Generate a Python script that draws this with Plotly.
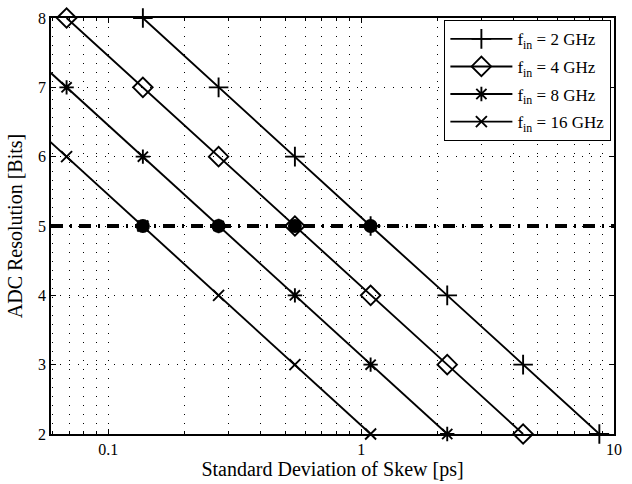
import numpy as np
import plotly.graph_objects as go

# ADC resolution (bits) versus the standard deviation of timing skew (ps)
bits = [8, 7, 6, 5, 4, 3, 2]
skew_2ghz = [0.137, 0.273, 0.547, 1.09, 2.19, 4.37, 8.75]
skew_4ghz = [0.0684, 0.137, 0.273, 0.547, 1.09, 2.19, 4.37]
skew_8ghz = [0.0342, 0.0684, 0.137, 0.273, 0.547, 1.09, 2.19]
skew_16ghz = [0.0171, 0.0342, 0.0684, 0.137, 0.273, 0.547, 1.09]

target_bits = 5
target_skew = [0.137, 0.273, 0.547, 1.09]

x_tick_vals = [0.1, 1, 10]
x_tick_text = ["0.1", "1", "10"]
y_tick_vals = [2, 3, 4, 5, 6, 7, 8]

x_range_log = [-1.2266, 1.0]
y_range = [2, 8]

FONT = "Liberation Serif"
LW = 1.9

series = [
    ("f<sub>in</sub> = 2 GHz", skew_2ghz, "cross-thin-open", 14),
    ("f<sub>in</sub> = 4 GHz", skew_4ghz, "diamond-open", 15),
    ("f<sub>in</sub> = 8 GHz", skew_8ghz, "asterisk-open", 12),
    ("f<sub>in</sub> = 16 GHz", skew_16ghz, "x-thin-open", 11),
]

fig = go.Figure()

xmin, xmax = 10 ** x_range_log[0], 10 ** x_range_log[1]

# dash-dot reference line at the target resolution
fig.add_trace(go.Scatter(
    x=[xmin, xmax], y=[target_bits, target_bits], mode="lines",
    line=dict(color="black", width=3.8, dash="12px,7px,2px,7px"),
    showlegend=False, hoverinfo="skip",
))

for i, (name, skew, symbol, size) in enumerate(series):
    # full line (clipped to the plot area by the axes)
    fig.add_trace(go.Scatter(
        x=skew, y=bits, mode="lines",
        line=dict(color="black", width=LW),
        showlegend=False, hoverinfo="skip",
    ))
    # markers that fall inside the visible range
    keep = [(s, b) for s, b in zip(skew, bits)
            if xmin <= s <= xmax and y_range[0] <= b <= y_range[1]]
    fig.add_trace(go.Scatter(
        x=[k[0] for k in keep], y=[k[1] for k in keep], mode="markers", cliponaxis=False,
        marker=dict(symbol=symbol, size=size, color="black",
                    line=dict(color="black", width=LW)),
        showlegend=False,
    ))
    # legend entry (line + marker)
    fig.add_trace(go.Scatter(
        x=[None], y=[None], mode="lines+markers", name=name,
        legendgroup=f"g{i}",
        line=dict(color="black", width=LW),
        marker=dict(symbol=symbol, size=size, color="black",
                    line=dict(color="black", width=LW)),
    ))

# operating points at the target resolution
fig.add_trace(go.Scatter(
    x=target_skew, y=[target_bits] * len(target_skew), mode="markers",
    cliponaxis=False,
    marker=dict(symbol="circle", size=14, color="black"),
    showlegend=False,
))

minor_vals = [m * 10.0 ** d for d in (-2, -1, 0) for m in range(2, 10)]

fig.update_xaxes(
    type="log", range=x_range_log,
    tickmode="array", tickvals=x_tick_vals, ticktext=x_tick_text,
    ticks="inside", ticklen=5, tickwidth=1, tickcolor="black",
    showline=True, linecolor="black", linewidth=1.6, mirror="ticks",
    showgrid=True, gridcolor="black", gridwidth=1, griddash="1px,8px",
    minor=dict(tickmode="array", tickvals=minor_vals, ticks="inside", ticklen=3,
               tickcolor="black", showgrid=True, gridcolor="black",
               gridwidth=1, griddash="1px,8px"),
    zeroline=False,
    title=dict(text="Standard Deviation of Skew [ps]", font=dict(family=FONT, size=20, color="black"), standoff=2),
    tickfont=dict(family=FONT, size=16, color="black"),
)
fig.update_yaxes(
    range=y_range, tickmode="array", tickvals=y_tick_vals,
    ticks="inside", ticklen=5, tickwidth=1, tickcolor="black",
    showline=True, linecolor="black", linewidth=1.6, mirror="ticks",
    showgrid=True, gridcolor="black", gridwidth=1, griddash="1px,8px",
    zeroline=False,
    title=dict(text="ADC Resolution [Bits]", font=dict(family=FONT, size=20, color="black"), standoff=10),
    tickfont=dict(family=FONT, size=16, color="black"),
)

fig.update_layout(
    width=632, height=484,
    margin=dict(l=51, r=10, t=15, b=48),
    paper_bgcolor="white", plot_bgcolor="white",
    font=dict(family=FONT, color="black"),
    legend=dict(
        x=0.995, y=0.995, xanchor="right", yanchor="top",
        bgcolor="white", bordercolor="black", borderwidth=1.2,
        font=dict(family=FONT, size=17, color="black"),
        itemwidth=62, tracegroupgap=2.5,
    ),
    showlegend=True,
)

fig.write_html("out.html")
